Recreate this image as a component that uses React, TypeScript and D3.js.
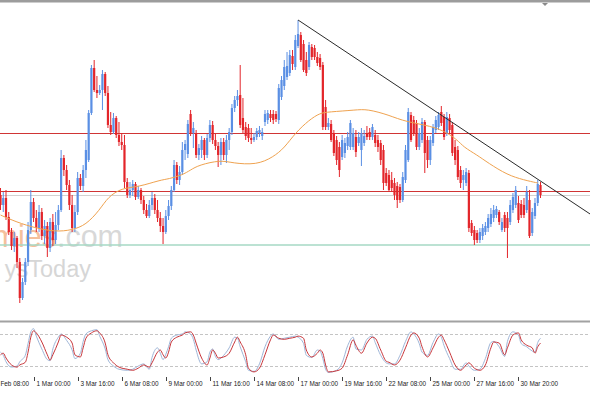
import React from 'react';
import * as d3 from 'd3';

const W = 590;
const H = 393;

// Candles (price units), one entry per bar
const opens = [205,195,202,183,168,154,162,138,102,118,138,170,198,182,172,188,164,174,152,178,160,175,190,242,230,215,195,172,188,222,214,230,240,287,332,310,307,310,326,307,275,268,282,265,258,255,218,205,210,216,203,210,200,190,184,195,202,190,182,174,168,184,194,210,235,220,228,250,246,286,267,266,245,250,260,245,262,275,260,254,245,258,245,260,268,292,300,305,282,273,272,262,260,263,267,264,278,280,286,286,286,280,303,314,323,327,344,333,354,365,356,340,333,353,352,343,342,335,293,273,276,267,260,253,243,247,254,253,253,263,257,250,257,267,268,263,265,260,257,250,227,225,220,217,214,213,200,220,240,285,280,277,253,260,278,260,240,257,270,273,288,283,267,282,275,253,250,230,220,217,227,177,170,167,160,164,168,172,176,182,185,188,170,185,182,178,190,195,197,196,195,190,200,167,184,197,215];
const highs = [212,208,210,188,172,168,164,142,122,142,178,210,202,190,195,192,180,178,182,186,188,195,250,245,235,220,205,195,228,226,235,260,290,335,340,324,315,330,328,314,288,287,284,278,267,265,222,218,220,218,214,212,204,196,200,208,206,200,188,182,190,200,214,240,238,234,258,260,280,290,278,270,256,264,262,266,280,279,266,258,262,262,265,272,296,304,310,335,302,278,276,272,267,272,274,272,290,290,290,290,289,316,324,340,348,350,350,365,380,368,360,348,358,356,355,348,346,338,300,282,280,270,264,258,265,262,268,280,272,270,268,272,270,274,272,276,270,265,260,255,232,230,228,222,218,216,228,255,292,288,284,280,272,282,280,264,264,276,284,288,294,286,288,286,278,260,254,234,230,232,230,180,174,170,172,176,178,186,192,195,194,190,182,188,188,200,207,214,204,200,202,214,210,192,202,220,218];
const lows = [190,188,180,165,150,148,132,97,100,115,134,166,178,168,168,160,156,143,148,154,156,170,188,224,210,190,168,168,185,210,208,222,238,285,308,302,305,290,304,272,265,266,262,254,250,212,202,202,204,200,201,196,186,182,182,190,186,178,168,156,166,180,190,208,216,215,225,240,242,264,252,242,240,242,240,242,258,256,250,233,235,240,237,250,265,288,294,272,267,260,258,256,258,260,263,260,274,276,278,276,278,276,300,310,320,324,330,330,352,338,328,324,330,340,340,334,330,270,270,270,258,244,235,223,240,242,250,250,250,243,254,234,254,260,260,260,253,248,235,210,214,208,208,200,192,197,198,217,238,258,264,250,250,257,227,232,235,254,267,270,274,260,264,266,244,235,220,212,210,214,168,164,155,157,157,160,165,168,173,178,182,175,168,168,142,175,187,192,177,182,182,187,162,164,181,194,202];
const closes = [195,202,183,168,154,162,138,102,118,138,170,198,182,172,188,164,174,152,178,160,175,190,242,230,215,195,172,188,222,214,230,250,287,332,310,307,310,326,307,275,268,282,265,258,255,218,205,210,216,203,210,200,190,184,195,202,190,182,174,168,184,194,210,235,220,228,250,256,276,267,272,245,252,260,245,262,275,260,254,245,258,245,260,268,292,300,304,275,270,264,262,260,263,269,270,268,286,287,282,280,281,312,320,333,334,345,336,360,366,340,330,327,355,343,343,337,333,273,273,277,260,247,240,230,260,257,263,277,267,248,263,267,264,263,263,273,257,253,240,217,217,210,212,205,200,200,223,250,288,260,267,253,267,278,247,240,260,273,280,285,277,263,283,270,247,240,223,217,225,228,172,167,160,160,168,172,174,182,186,190,191,178,178,172,172,195,203,210,180,185,185,208,164,188,197,216,205];

// 50-period moving average, read at selected bars
const maBars = [0,4,11,20,26,31,36,39,44,50,58,61,66,69,72,80,84,93,99,103,107,112,116,119,129,133,141,147,159,166,168,173,177,184,190,195];
const maValues = [185,180,173,168,170,175,190,203,212,213,220,221,225,230,235,240,237,235,243,252,267,280,287,288,290,291,285,278,273,260,253,245,237,225,220,217];

// Stochastic oscillator, read at selected bars
const stochBars = [0,1,2,4,6,7,9,10,11,12,13,15,17,18,19,21,22,24,26,27,29,30,31,33,35,36,38,39,41,43,46,48,50,52,54,55,57,58,59,60,61,62,64,66,67,69,70,71,73,75,76,77,78,79,81,83,85,86,87,89,90,92,94,96,98,99,101,103,105,107,108,110,111,113,115,116,117,118,119,122,124,126,128,129,131,133,135,136,138,140,141,143,145,147,149,150,152,153,155,157,159,160,161,163,165,167,169,170,172,174,176,178,179,181,183,184,186,188,189,191,193,194,195,196];
const stochMain = [46,40,28,18,20,28,40,62,84,90,76,52,32,30,52,74,80,68,50,34,44,66,80,86,88,76,52,32,20,14,12,14,20,24,14,36,54,44,32,42,56,72,78,80,84,80,70,50,24,28,46,52,38,32,40,54,74,72,56,28,12,10,24,56,76,80,70,72,74,76,74,62,40,36,50,48,34,14,8,12,26,58,74,52,50,70,76,64,40,26,24,24,40,66,84,80,62,46,40,64,80,74,58,34,14,14,26,20,12,14,34,64,66,56,38,66,84,78,62,56,48,46,64,72];
const stochSignal = [41,44,35,22,18,22,27,46,74,86,82,65,41,31,41,65,78,74,63,41,37,54,72,82,86,82,63,41,26,18,14,12,16,22,18,26,46,50,41,35,46,65,74,78,82,84,78,63,35,22,35,50,44,35,37,44,65,74,65,41,16,9,16,41,69,78,72,70,72,74,76,72,50,37,44,50,44,22,9,11,16,41,69,59,44,63,74,72,50,29,27,22,31,54,78,82,72,56,37,54,74,78,69,46,22,12,22,26,16,12,22,54,65,63,41,54,78,82,69,59,54,44,56,63];
const stochLevels = [80, 20];

// Time axis
const tickBars = [-4,12,28,44,60,76,92,108,124,140,156,172,188];
const tickLabels = ['26 Feb 08:00','1 Mar 00:00','3 Mar 16:00','6 Mar 08:00','9 Mar 00:00','11 Mar 16:00','14 Mar 08:00','17 Mar 00:00','19 Mar 16:00','22 Mar 08:00','25 Mar 00:00','27 Mar 16:00','30 Mar 20:00'];

// Horizontal levels and trendline
const resistanceLevels = [267, 209.5];
const bidLevel = 205;
const supportLevel = 155;
const trendBars = [108, 214];
const trendPrices = [380, 186];

const BULL = '#5a8fe4';
const BEAR = '#e3252a';

export default function App() {
  const x = d3.scaleLinear().domain([0, 196]).range([0.5, 540.5]);
  const y = d3.scaleLinear().domain([80, 397]).range([320, 3]);
  const sy = d3.scaleLinear().domain([0, 100]).range([376.7, 323.3]);

  const maLine = d3.line<number>()
    .x((_, i) => x(maBars[i]))
    .y((d) => y(d))
    .curve(d3.curveBasis)(maValues) || '';

  const stochLine = (vals: number[]) =>
    d3.line<number>()
      .x((_, i) => x(stochBars[i]))
      .y((d) => sy(d))
      .curve(d3.curveMonotoneX)(vals) || '';

  const crisp = (v: number) => Math.round(v) + 0.5;

  return (
    <svg width={W} height={H} style={{ position: 'absolute', left: 0, top: 0, background: '#fff' }}
      fontFamily="Liberation Sans, Arial, sans-serif">
      <defs>
        <clipPath id="mainClip"><rect x={0} y={3} width={W} height={317} /></clipPath>
        <clipPath id="stochClip"><rect x={0} y={323} width={W} height={54} /></clipPath>
      </defs>
      <rect x={0} y={0} width={W} height={H} fill="#fff" />

      {/* watermark */}
      <g clipPath="url(#mainClip)">
        <text x={123} y={247} fontSize={30.5} textAnchor="end">
          <tspan fill="#f5c09c">economies</tspan>
          <tspan fill="#d8d8d8">.com</tspan>
        </text>
        <text x={91} y={277} fontSize={23.5} textAnchor="end" fill="#d6d6d6">ysToday</text>
      </g>

      <g clipPath="url(#mainClip)">
        {/* levels */}
        {resistanceLevels.map((p, i) => (
          <line key={'r' + i} x1={0} x2={W} y1={crisp(y(p))} y2={crisp(y(p))} stroke="#d03535" strokeWidth={1} />
        ))}
        <line x1={0} x2={W} y1={crisp(y(bidLevel))} y2={crisp(y(bidLevel))} stroke="#d2d2d2" strokeWidth={1} />
        <line x1={0} x2={W} y1={y(supportLevel)} y2={y(supportLevel)} stroke="#a6d8c4" strokeWidth={1.6} />

        {/* candles */}
        {closes.map((c, i) => {
          const o = opens[i];
          const up = c >= o;
          const col = up ? BULL : BEAR;
          const cx = x(i);
          const top = y(Math.max(o, c));
          const bot = y(Math.min(o, c));
          return (
            <g key={i}>
              <line x1={cx} x2={cx} y1={y(highs[i])} y2={y(lows[i])} stroke={col} strokeWidth={1} />
              <rect x={cx - 1.1} y={top} width={2.2} height={Math.max(1, bot - top)} fill={col} />
            </g>
          );
        })}

        {/* moving average */}
        <path d={maLine} fill="none" stroke="#efa24f" strokeWidth={1} />

        {/* trendline */}
        <line x1={x(trendBars[0])} y1={y(trendPrices[0])} x2={x(trendBars[1])} y2={y(trendPrices[1])}
          stroke="#2a2a2a" strokeWidth={1} />
      </g>

      {/* top border and marker */}
      <rect x={0} y={0} width={W} height={2} fill="#9c9c9c" />
      <rect x={0} y={2} width={W} height={1} fill="#cdcdcd" />
      <path d="M542,3 L548,3 L545,6 Z" fill="#8a8a8a" />

      {/* panel separator */}
      <rect x={0} y={320.5} width={W} height={2} fill="#a2a2a2" />

      {/* stochastic panel */}
      <g clipPath="url(#stochClip)">
        {stochLevels.map((v) => (
          <line key={v} x1={0} x2={W} y1={crisp(sy(v))} y2={crisp(sy(v))} stroke="#c4c4c4" strokeDasharray="3,2" strokeWidth={1} />
        ))}
        <path d={stochLine(stochMain)} fill="none" stroke="#9fb6d8" strokeWidth={1} />
        <path d={stochLine(stochSignal)} fill="none" stroke="#c8353a" strokeWidth={1} />
      </g>

      {/* time axis */}
      {tickBars.map((b, i) => {
        const tx = crisp(x(b));
        return (
          <g key={b}>
            <line x1={tx} x2={tx} y1={377} y2={381} stroke="#444" strokeWidth={1} />
            <text x={tx + 2} y={386} fontSize={6.4} fill="#222">{tickLabels[i]}</text>
          </g>
        );
      })}
    </svg>
  );
}
